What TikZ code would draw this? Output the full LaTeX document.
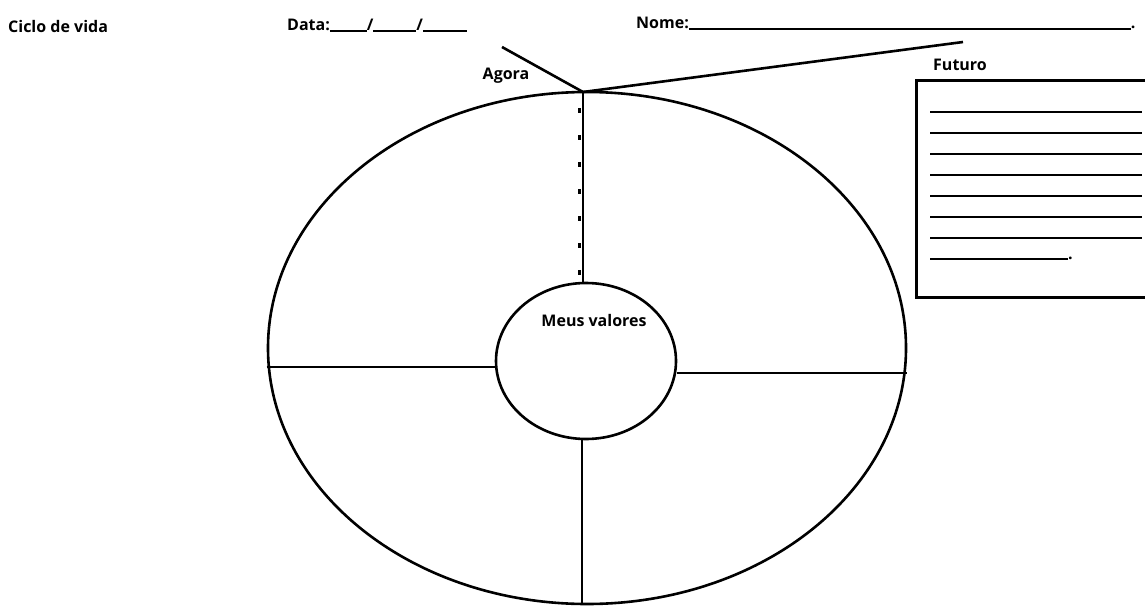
\documentclass[tikz,border=0pt]{standalone}
\usepackage{fontspec}
\setmainfont{Open Sans}
\usetikzlibrary{shapes.geometric,positioning}
\newcommand{\blank}[1]{\rule[-1.5pt]{#1}{1.8pt}}

\begin{document}
\begin{tikzpicture}[x=1pt, y=-1pt,
  lbl/.style={font=\bfseries\fontsize{16}{18}\selectfont, inner sep=0pt, anchor=base west},
  ring/.style={draw, ellipse, line width=2.6pt, inner sep=0pt},
  spoke/.style={line width=2.6pt},
  rule/.style={line width=1.8pt}
]
  \useasboundingbox (0,0) rectangle (1145,605);

  %% header
  \node[lbl] (titulo) at (8,32) {Ciclo de vida};
  \node[lbl] (data) at (287,30) {Data:\blank{37pt}/\blank{43pt}/\blank{44pt}};
  \node[lbl] (nome) at (636,28) {Nome:\blank{442pt}.};

  %% wheel
  \node[ring, minimum width=638pt, minimum height=512pt] (ciclo) at (587,348) {};
  \node[ring, minimum width=180pt, minimum height=156pt] (valores) at (586,361) {};
  \node[lbl, anchor=center] (valtxt) at (594,320) {Meus valores};

  \coordinate (agoraponto) at (583,92);
  \coordinate (passado) at (502,47);
  \coordinate (futurofim) at (963,42);

  \draw[spoke] (agoraponto) -- (agoraponto |- valores.north);
  \draw[line width=3pt, dash pattern=on 5pt off 22pt] (579,108) -- (579,283);
  \draw[spoke] (ciclo.west |- 0,367) -- (valores.west |- 0,367);
  \draw[spoke] (valores.east |- 0,373) -- (ciclo.east |- 0,373);
  \draw[spoke] ([xshift=-4pt]valores.south) -- ([xshift=-4pt]valores.south |- ciclo.south);

  \draw[spoke] (passado) -- (agoraponto) -- (futurofim);
  \node[lbl, anchor=center] (agora) at (506,76) {Agora};

  %% future box
  \node[draw, line width=3pt, minimum width=240pt, minimum height=217pt,
        anchor=north west, inner sep=0pt] (futuro) at (915,79) {};
  \node[lbl, anchor=center] (futurolbl) at (960,65) {Futuro};
  \foreach \y in {112,133,...,238}
    \draw[rule] (930,\y) -- (1142,\y);
  \draw[rule] (930,259) -- (1068,259);
  \node[lbl] (ponto) at (1068,259) {.};
\end{tikzpicture}
\end{document}
